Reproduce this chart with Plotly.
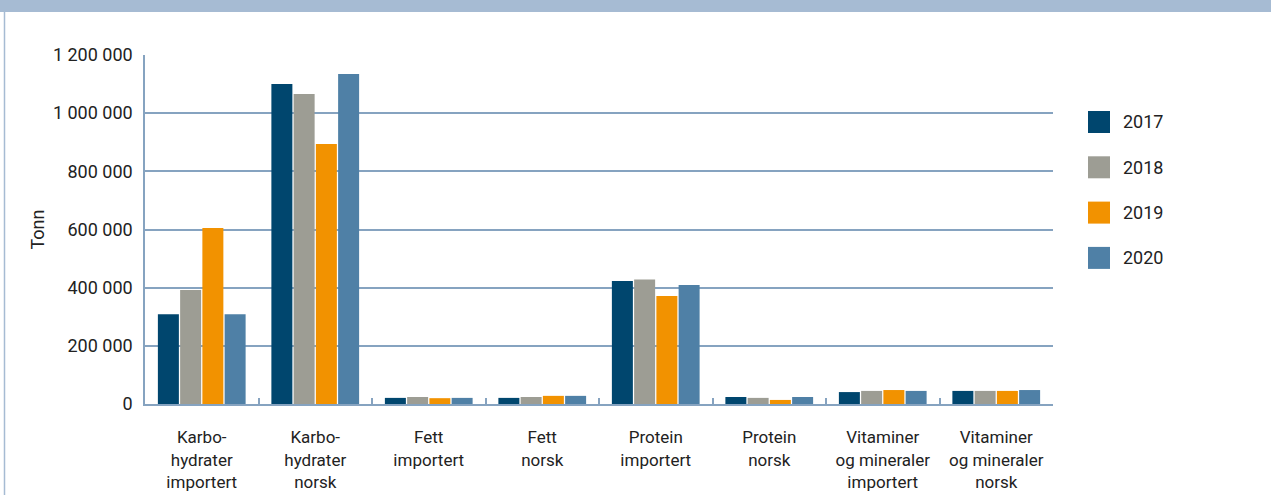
import plotly.graph_objects as go

# Categories (x axis) and yearly tonnage per category
categories = [
    "Karbo-<br>hydrater<br>importert",
    "Karbo-<br>hydrater<br>norsk",
    "Fett<br>importert",
    "Fett<br>norsk",
    "Protein<br>importert",
    "Protein<br>norsk",
    "Vitaminer<br>og mineraler<br>importert",
    "Vitaminer<br>og mineraler<br>norsk",
]
years = ["2017", "2018", "2019", "2020"]
values_2017 = [309000, 1100000, 21000, 21000, 423000, 24000, 41000, 45000]
values_2018 = [392000, 1066000, 24000, 24000, 428000, 21000, 45000, 45000]
values_2019 = [605000, 894000, 20000, 28000, 371000, 14000, 48000, 45000]
values_2020 = [309000, 1135000, 21000, 28000, 409000, 24000, 45000, 48000]
series = [values_2017, values_2018, values_2019, values_2020]
colors = ["#00466e", "#9d9d94", "#f29200", "#4f80a6"]

y_ticks = [0, 200000, 400000, 600000, 800000, 1000000, 1200000]

W, H = 1271, 495
ML, MR, MT, MB = 145, 218, 55, 91
PW, PH = W - ML - MR, H - MT - MB
FONT = "Roboto, Arial, sans-serif"
FS = 18
GRID = "#86a3c0"


def px_x(px):
    return (px - ML) / PW


def px_y(py):
    return (H - MB - py) / PH


fig = go.Figure()
for year, vals, col in zip(years, series, colors):
    fig.add_trace(go.Bar(name=year, x=categories, y=vals, marker_color=col,
                         marker_line_width=0, showlegend=False))

shapes = []
annotations = []

# header band and left frame line
shapes.append(dict(type="rect", xref="paper", yref="paper",
                   x0=px_x(0), x1=px_x(W), y0=px_y(12), y1=px_y(-2),
                   fillcolor="#a6bbd3", line_width=0, layer="above"))
shapes.append(dict(type="line", xref="paper", yref="paper",
                   x0=px_x(4.5), x1=px_x(4.5), y0=px_y(12), y1=px_y(H + 2),
                   line=dict(color="#a6bbd3", width=1.5)))

# legend: coloured squares with year labels
for i, (year, col) in enumerate(zip(years, colors)):
    cy = 122 + i * 45.3
    shapes.append(dict(type="rect", xref="paper", yref="paper",
                       x0=px_x(1088), x1=px_x(1110),
                       y0=px_y(cy + 11), y1=px_y(cy - 11),
                       fillcolor=col, line_width=0))
    annotations.append(dict(xref="paper", yref="paper", x=px_x(1121), y=px_y(cy),
                            text=year, showarrow=False, xanchor="left",
                            yanchor="middle",
                            font=dict(family=FONT, size=FS, color="#222222")))

fig.update_layout(
    width=W, height=H,
    margin=dict(l=ML, r=MR, t=MT, b=MB),
    paper_bgcolor="white", plot_bgcolor="white",
    barmode="group", bargap=0.216, bargroupgap=0.056,
    separators=", ",
    font=dict(family=FONT, size=FS, color="#222222"),
    shapes=shapes, annotations=annotations,
    showlegend=False,
)
fig.update_xaxes(
    automargin=False,
    showline=True, linecolor=GRID, linewidth=2,
    ticks="inside", tickson="boundaries", ticklen=6, tickcolor=GRID, tickwidth=1.5,
    showgrid=False, ticklabelstandoff=17,
    tickfont=dict(family=FONT, size=17, color="#222222"),
)
fig.update_yaxes(
    automargin=False,
    range=[0, 1200000], tickvals=y_ticks, tickformat=",d",
    showline=True, linecolor=GRID, linewidth=1.5,
    showgrid=True, gridcolor=GRID, gridwidth=1.5,
    zeroline=False, ticks="", ticklabelstandoff=7,
    title=dict(text="Tonn", standoff=4,
               font=dict(family=FONT, size=FS, color="#222222")),
    tickfont=dict(family=FONT, size=FS, color="#222222"),
)

fig.write_html("out.html")
